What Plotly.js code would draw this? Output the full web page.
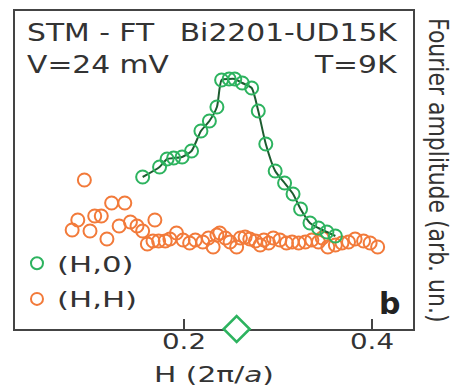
<!DOCTYPE html>
<html>
<head>
<meta charset="utf-8">
<script src="https://cdn.plot.ly/plotly-3.0.1.min.js"></script>
<style>html,body{margin:0;padding:0;background:#fff;}#chart{width:457px;height:390px;}</style>
</head>
<body>
<div id="chart"></div>
<script>
// (H,0) direction: H in units of 2pi/a, Fourier amplitude (arb. un.)
const hH0 = [0.156, 0.174, 0.182, 0.189, 0.198, 0.208, 0.218, 0.227, 0.235, 0.240, 0.248, 0.254,
             0.262, 0.272, 0.279, 0.287, 0.297, 0.307, 0.316, 0.324, 0.334, 0.343, 0.352, 0.361];
const ampH0 = [1.52, 1.62, 1.70, 1.71, 1.72, 1.78, 1.98, 2.08, 2.22, 2.49, 2.50, 2.50,
               2.46, 2.41, 2.18, 1.85, 1.58, 1.46, 1.35, 1.20, 1.06, 1.01, 0.97, 0.93];
// (H,H) direction
const hHH = [0.094, 0.123, 0.137, 0.087, 0.105, 0.112, 0.081, 0.100, 0.118, 0.131, 0.143, 0.150,
             0.156, 0.169, 0.161, 0.167, 0.173, 0.180, 0.185, 0.192, 0.199, 0.206, 0.212, 0.220,
             0.226, 0.231, 0.235, 0.238, 0.244, 0.249, 0.256, 0.260, 0.265, 0.270, 0.276, 0.281,
             0.285, 0.290, 0.295, 0.302, 0.309, 0.315, 0.322, 0.329, 0.336, 0.343, 0.347, 0.353,
             0.361, 0.368, 0.375, 0.382, 0.391, 0.398, 0.406];
const ampHH = [1.49, 1.26, 1.26, 1.09, 1.13, 1.13, 0.99, 0.98, 0.90, 1.03, 1.07, 1.03,
               0.98, 1.09, 0.85, 0.88, 0.88, 0.88, 0.90, 0.96, 0.89, 0.86, 0.89, 0.87,
               0.91, 0.82, 0.94, 0.96, 0.91, 0.87, 0.82, 0.91, 0.92, 0.90, 0.88, 0.84,
               0.89, 0.86, 0.91, 0.89, 0.86, 0.87, 0.86, 0.87, 0.89, 0.87, 0.91, 0.82,
               0.84, 0.86, 0.87, 0.90, 0.88, 0.86, 0.82];
// marked wavevector on the H axis
const hMark = [0.256];
const ampMark = [0];
const tickVals = [0.2, 0.4];
const tickText = ['0.2', '0.4'];

const green = '#2db35f', orange = '#f27a3a', ink = '#333333';
const FONT = 'DejaVu Sans, Liberation Sans, Arial, sans-serif';

const traces = [
  {x: hHH, y: ampHH, type: 'scatter', mode: 'markers', name: '(H,H)', legendgroup: 'hh', legendrank: 2,
   marker: {symbol: 'circle-open', size: 13, color: orange, line: {width: 2, color: orange}}},
  {x: hH0, y: ampH0, type: 'scatter', mode: 'lines', name: 'fit', showlegend: false, hoverinfo: 'skip',
   line: {color: '#1d5c30', width: 2, shape: 'spline', smoothing: 0.6}},
  {x: hH0, y: ampH0, type: 'scatter', mode: 'markers', name: '(H,0)', legendgroup: 'h0', legendrank: 1,
   marker: {symbol: 'circle-open', size: 13, color: green, line: {width: 2, color: green}}},
  {x: hMark, y: ampMark, type: 'scatter', mode: 'markers', showlegend: false, cliponaxis: false,
   marker: {symbol: 'diamond', size: 20, color: '#ffffff', line: {width: 2.5, color: green}}}
];

const layout = {
  width: 457, height: 390,
  margin: {l: 15, r: 44, t: 11, b: 61},
  paper_bgcolor: '#fff', plot_bgcolor: '#fff',
  font: {family: FONT, color: ink, size: 22},
  showlegend: true,
  legend: {x: 0.005, y: 0.272, xanchor: 'left', yanchor: 'top', traceorder: 'grouped',
           bgcolor: 'rgba(0,0,0,0)', font: {family: FONT, size: 22, color: ink},
           itemsizing: 'constant', tracegroupgap: 4},
  xaxis: {range: [0.0202, 0.4436], tickvals: tickVals, ticktext: tickText, ticks: 'inside',
          ticklen: 10, tickwidth: 2, tickcolor: '#444', showline: true, linecolor: '#444',
          linewidth: 2, mirror: true, showgrid: false, zeroline: false, layer: 'below traces',
          ticklabelstandoff: -8,
          tickfont: {family: FONT, size: 22, color: ink},
          title: {text: 'H (2π/<i>a</i>)', font: {family: FONT, size: 22, color: ink}, standoff: 13}},
  yaxis: {range: [0, 3.18], showticklabels: false, ticks: '', showline: true, linecolor: '#444',
          linewidth: 2, mirror: true, showgrid: false, zeroline: false, layer: 'below traces'},
  annotations: [
    {text: 'STM - FT', xref: 'paper', yref: 'paper', x: 0.025, y: 0.931, xanchor: 'left', yanchor: 'middle',
     showarrow: false, font: {family: FONT, size: 24, color: ink}},
    {text: 'Bi2201-UD15K', xref: 'paper', yref: 'paper', x: 0.967, y: 0.931, xanchor: 'right', yanchor: 'middle',
     showarrow: false, font: {family: FONT, size: 24, color: ink}},
    {text: 'V=24 mV', xref: 'paper', yref: 'paper', x: 0.025, y: 0.830, xanchor: 'left', yanchor: 'middle',
     showarrow: false, font: {family: FONT, size: 24, color: ink}},
    {text: 'T=9K', xref: 'paper', yref: 'paper', x: 0.967, y: 0.830, xanchor: 'right', yanchor: 'middle',
     showarrow: false, font: {family: FONT, size: 24, color: ink}},
    {text: '<b>b</b>', xref: 'paper', yref: 'paper', x: 0.94, y: 0.08, xanchor: 'center', yanchor: 'middle',
     showarrow: false, font: {family: FONT, size: 30, color: '#222'}},
    {text: 'Fourier amplitude (arb. un.)', xref: 'paper', yref: 'paper', x: 1.063, y: 0.5,
     xanchor: 'center', yanchor: 'middle', textangle: 90, showarrow: false,
     font: {family: FONT, size: 22, color: ink}}
  ]
};

// The reference typesetting is horizontally wide; widen glyphs in place (text stays real text).
function widen(el, sx, sy, anchor) {
  const bb = el.getBBox();
  const ox = anchor === 'start' ? bb.x : anchor === 'end' ? bb.x + bb.width : bb.x + bb.width / 2;
  const oy = bb.y + bb.height / 2;
  const prev = el.getAttribute('transform') || '';
  el.setAttribute('transform', prev + ' translate(' + ox + ',' + oy + ') scale(' + sx + ',' + sy + ') translate(' + (-ox) + ',' + (-oy) + ')');
}

Plotly.newPlot('chart', traces, layout, {displayModeBar: false, staticPlot: true}).then(function (gd) {
  const annSpec = [[1.24, 1, 'start'], [1.24, 1, 'end'], [1.24, 1, 'start'], [1.24, 1, 'end'], null, [1, 1.2, 'middle']];
  annSpec.forEach(function (s, i) {
    if (!s) return;
    const t = gd.querySelector('.annotation[data-index="' + i + '"] text.annotation-text');
    if (t) widen(t, s[0], s[1], s[2]);
  });
  gd.querySelectorAll('.xtick text').forEach(function (t) { widen(t, 1.26, 1, 'middle'); });
  gd.querySelectorAll('.legendtext').forEach(function (t) { widen(t, 1.4, 1, 'start'); });
  gd.querySelectorAll('.legend [clip-path]').forEach(function (e) { e.removeAttribute('clip-path'); });
  const xt = gd.querySelector('.g-xtitle text');
  if (xt) widen(xt, 1.35, 1, 'middle');
});
</script>
</body>
</html>
